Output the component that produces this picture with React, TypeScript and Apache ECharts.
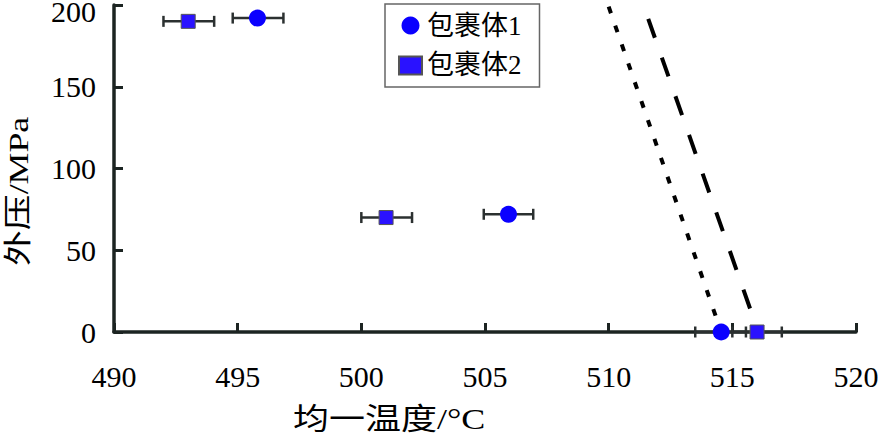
import React, { useEffect, useRef } from "react";
import * as echarts from "echarts";

// ---- data ----
const series1Name = "包裹体1";
const series2Name = "包裹体2";
// [x (°C), y (MPa), xLow, xHigh]
const inclusion1 = [
  [495.8, 192, 494.8, 496.85],
  [505.95, 72, 504.95, 506.95],
  [514.55, 0, 513.5, 515.55],
];
const inclusion2 = [
  [493.0, 190, 492.0, 494.05],
  [501.0, 70, 500.0, 502.05],
  [516.0, 0, 515.0, 517.0],
];
const dottedLine = [
  [510.0, 199],
  [514.55, 0],
];
const dashedLine = [
  [511.6, 191.5],
  [516.05, 0],
];
const xAxisTitle = "均一温度/°C";
const yAxisTitle = "外压/MPa";
const xMin = 490, xMax = 520, xStep = 5;
const yMin = 0, yMax = 200, yStep = 50;

const FONT = "'Liberation Serif', 'Noto Sans CJK SC', serif";
const AXIS_COLOR = "#1c2422";
const ERR_COLOR = "#2b3030";

function errorBarRender(params: any, api: any) {
  const y = api.value(1);
  const lo = api.coord([api.value(2), y]);
  const hi = api.coord([api.value(3), y]);
  const cap = 5.5;
  const style = { stroke: ERR_COLOR, lineWidth: 2.5 };
  return {
    type: "group",
    children: [
      { type: "line", shape: { x1: lo[0], y1: lo[1], x2: hi[0], y2: hi[1] }, style },
      { type: "line", shape: { x1: lo[0], y1: lo[1] - cap, x2: lo[0], y2: lo[1] + cap }, style },
      { type: "line", shape: { x1: hi[0], y1: hi[1] - cap, x2: hi[0], y2: hi[1] + cap }, style },
    ],
  };
}

export default function App() {
  const ref = useRef<HTMLDivElement>(null);
  useEffect(() => {
    if (!ref.current) return;
    const chart = echarts.init(ref.current, null, { renderer: "svg" });
    chart.setOption({
      animation: false,
      backgroundColor: "#ffffff",
      grid: { left: 114, right: 25, top: 5, bottom: 109, containLabel: false, outerBoundsMode: "none" },
      legend: {
        left: 385,
        top: 4,
        orient: "vertical",
        padding: [8, 18, 8, 13],
        itemGap: 13,
        itemWidth: 23,
        itemHeight: 18,
        symbolKeepAspect: true,
        borderColor: "#666",
        borderWidth: 1.5,
        textStyle: { fontSize: 27, fontFamily: FONT, color: "#000" },
        data: [
          { name: series1Name, icon: "circle" },
          { name: series2Name, icon: "rect" },
        ],
      },
      xAxis: {
        type: "value",
        min: xMin,
        max: xMax,
        interval: xStep,
        axisLine: { lineStyle: { color: AXIS_COLOR, width: 3.5 } },
        axisTick: { inside: true, length: 9, lineStyle: { color: AXIS_COLOR, width: 3 } },
        axisLabel: { fontSize: 30, fontFamily: FONT, color: "#000", margin: 29 },
        splitLine: { show: false },
      },
      yAxis: {
        type: "value",
        min: yMin,
        max: yMax,
        interval: yStep,
        axisLine: { show: true, lineStyle: { color: AXIS_COLOR, width: 3.5 } },
        axisTick: { show: true, inside: true, length: 9, lineStyle: { color: AXIS_COLOR, width: 3 } },
        axisLabel: {
          fontSize: 30,
          fontFamily: FONT,
          color: "#000",
          margin: 18,
          lineHeight: 12,
          verticalAlignMaxLabel: "top",
        },
        splitLine: { show: false },
      },
      graphic: [
        {
          type: "text",
          x: 293,
          y: 404,
          scaleX: 1.2,
          style: { text: xAxisTitle, fontSize: 30, fontFamily: FONT, fill: "#000", verticalAlign: "top" },
        },
        {
          type: "text",
          x: 4,
          y: 266,
          rotation: Math.PI / 2,
          scaleX: 1.28,
          style: { text: yAxisTitle, fontSize: 28, fontFamily: FONT, fill: "#000", verticalAlign: "top" },
        },
      ],
      series: [
        {
          type: "line",
          data: dottedLine,
          showSymbol: false,
          silent: true,
          lineStyle: { color: "#000", width: 4, type: [7, 13] },
          z: 1,
        },
        {
          type: "line",
          data: dashedLine,
          showSymbol: false,
          silent: true,
          lineStyle: { color: "#000", width: 4, type: [20, 21] },
          z: 1,
        },
        {
          type: "custom",
          renderItem: errorBarRender,
          data: inclusion1,
          encode: { x: 0, y: 1 },
          silent: true,
          z: 2,
        },
        {
          type: "custom",
          renderItem: errorBarRender,
          data: inclusion2,
          encode: { x: 0, y: 1 },
          silent: true,
          z: 2,
        },
        {
          name: series1Name,
          type: "scatter",
          symbol: "circle",
          symbolSize: 17,
          data: inclusion1.map((d) => [d[0], d[1]]),
          itemStyle: { color: "#0a00ff", opacity: 1 },
          z: 3,
        },
        {
          name: series2Name,
          type: "scatter",
          symbol: "rect",
          symbolSize: 14,
          data: inclusion2.map((d) => [d[0], d[1]]),
          itemStyle: { color: "#2a12ff", borderColor: "#555", borderWidth: 1, opacity: 1 },
          z: 3,
        },
      ],
    });
    return () => chart.dispose();
  }, []);
  return (
    <div
      ref={ref}
      style={{ position: "fixed", left: 0, top: 0, width: 881, height: 441, background: "#fff" }}
    />
  );
}
